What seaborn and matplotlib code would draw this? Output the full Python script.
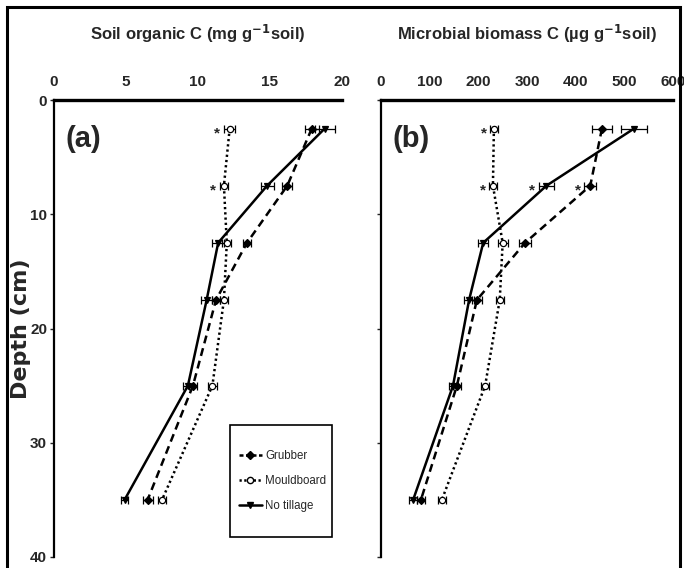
import matplotlib
matplotlib.use("Agg")
import matplotlib.pyplot as plt
import matplotlib.patches as mpatches
from matplotlib.lines import Line2D
import numpy as np
import pandas as pd
import seaborn as sns

# Sampling depths (cm, layer mid-points)
depth = [2.5, 7.5, 12.5, 17.5, 25, 35]
treatments = ["Grubber", "Mouldboard", "No tillage"]

# Soil organic C (mg g-1 soil): means and standard errors
soc_grubber = [17.9, 16.2, 13.4, 11.25, 9.65, 6.5]
soc_mould = [12.2, 11.8, 12.0, 11.8, 11.0, 7.5]
soc_notill = [18.8, 14.8, 11.4, 10.6, 9.3, 4.9]
soc_grubber_se = [0.5, 0.35, 0.3, 0.3, 0.3, 0.35]
soc_mould_se = [0.4, 0.3, 0.3, 0.3, 0.3, 0.3]
soc_notill_se = [0.7, 0.45, 0.4, 0.4, 0.35, 0.25]

# Microbial biomass C (ug g-1 soil): means and standard errors
mbc_grubber = [454, 430, 296, 197, 156, 82]
mbc_mould = [232, 230, 250, 244, 214, 125]
mbc_notill = [520, 340, 210, 181, 148, 66]
mbc_grubber_se = [20, 12, 12, 10, 8, 8]
mbc_mould_se = [8, 8, 10, 8, 8, 8]
mbc_notill_se = [27, 16, 10, 10, 8, 8]

# Significance marks: (treatment, depth index)
soc_stars = [("Mouldboard", 0), ("Mouldboard", 1)]
mbc_stars = [("Mouldboard", 0), ("Mouldboard", 1), ("No tillage", 1), ("Grubber", 1)]

soc_ticks = [0, 5, 10, 15, 20]
mbc_ticks = [0, 100, 200, 300, 400, 500, 600]
depth_ticks = [0, 10, 20, 30, 40]


def long_table(g, m, n, gse, mse, nse):
    rows = []
    for name, vals, errs in zip(treatments, [g, m, n], [gse, mse, nse]):
        for d, v, e in zip(depth, vals, errs):
            rows.append({"Treatment": name, "Depth": d, "Value": v, "SE": e})
    return pd.DataFrame(rows)


soc = long_table(soc_grubber, soc_mould, soc_notill,
                 soc_grubber_se, soc_mould_se, soc_notill_se)
mbc = long_table(mbc_grubber, mbc_mould, mbc_notill,
                 mbc_grubber_se, mbc_mould_se, mbc_notill_se)

sns.set_theme(style="white")
plt.rcParams["font.family"] = ["Liberation Sans", "DejaVu Sans"]
plt.rcParams["mathtext.default"] = "regular"

styles = {
    "Grubber": dict(ls=(0, (3.2, 2.0)), leg_ls=(0, (1.6, 1.0)), marker="D",
                    mfc="black", ms=4),
    "Mouldboard": dict(ls=(0, (0.9, 1.2)), leg_ls=(0, (0.9, 1.0)), marker="o",
                       mfc="white", ms=4.5),
    "No tillage": dict(ls="-", leg_ls="-", marker="v", mfc="black", ms=5),
}

fig = plt.figure(figsize=(6.84, 5.68), dpi=100)
W, H = 684, 568


def px_axes(x0, x1, y0, y1):
    return fig.add_axes([x0 / W, 1 - y1 / H, (x1 - x0) / W, (y1 - y0) / H])


ax_a = px_axes(54, 342, 100, 557)
ax_b = px_axes(381, 673, 100, 557)

# outer frame around the whole figure
frame = mpatches.Rectangle((7 / W, -0.05), (680 - 7) / W, 1 - 7 / H + 0.05,
                           transform=fig.transFigure, fill=False,
                           lw=2.2, ec="black", zorder=10)
fig.patches.append(frame)


def draw_panel(ax, df, xlim, xticks, xlabel, tag, stars, show_ylabels):
    for name in treatments:
        sub = df[df["Treatment"] == name]
        st = styles[name]
        sns.lineplot(data=sub, x="Value", y="Depth", sort=False, estimator=None,
                     orient="y", ax=ax, color="black", lw=1.8, linestyle=st["ls"],
                     legend=False)
        ax.errorbar(sub["Value"], sub["Depth"], xerr=sub["SE"], fmt=st["marker"],
                    ms=st["ms"], mfc=st["mfc"], mec="black", mew=0.9,
                    ecolor="black", elinewidth=0.9, capsize=3, capthick=0.9,
                    zorder=5)
    for name, i in stars:
        sub = df[df["Treatment"] == name].reset_index(drop=True)
        ax.annotate("*", xy=(sub.loc[i, "Value"] - sub.loc[i, "SE"], sub.loc[i, "Depth"]),
                    xytext=(-2.5, -3.5), textcoords="offset points",
                    ha="right", va="center", fontsize=11, fontweight="bold")

    ax.set_xlim(*xlim)
    ax.set_ylim(40, 0)
    ax.set_xticks(xticks)
    ax.set_yticks(depth_ticks)
    ax.xaxis.tick_top()
    ax.xaxis.set_label_position("top")
    ax.set_xlabel(xlabel, fontsize=12, fontweight="bold", labelpad=25)
    ax.tick_params(axis="x", length=0, pad=8, labelsize=11)
    ax.tick_params(axis="y", left=True, length=3, width=1, pad=2, labelsize=11,
                   labelleft=show_ylabels)
    for lab in ax.get_xticklabels() + ax.get_yticklabels():
        lab.set_fontweight("bold")
    for s in ["right", "bottom"]:
        ax.spines[s].set_visible(False)
    ax.spines["top"].set_linewidth(2.4)
    ax.spines["left"].set_linewidth(1.6)
    ax.spines["top"].set_color("black")
    ax.spines["left"].set_color("black")
    ax.text(0.04, 0.915, tag, transform=ax.transAxes, fontsize=21,
            fontweight="bold", ha="left", va="center")


draw_panel(ax_a, soc, (0, 20), soc_ticks,
           r"Soil organic C (mg g$^{\mathbf{-1}}$soil)", "(a)", soc_stars, True)
draw_panel(ax_b, mbc, (0, 600), mbc_ticks,
           r"Microbial biomass C (µg g$^{\mathbf{-1}}$soil)", "(b)", mbc_stars, False)
ax_b.set_ylabel("")
ax_a.set_ylabel("Depth (cm)", fontsize=16, fontweight="bold",
                family=["DejaVu Sans"])
ax_a.yaxis.set_label_coords((31 - 54) / 288, 0.5)

# legend: entries without frame, box drawn as a separate rectangle
handles = [Line2D([0], [0], color="black", lw=1.8, linestyle=styles[n]["leg_ls"],
                  marker=styles[n]["marker"], ms=styles[n]["ms"],
                  mfc=styles[n]["mfc"], mec="black") for n in treatments]
leg = ax_a.legend(handles, treatments, loc="center left",
                  bbox_to_anchor=((233 - 54) / 288, (557 - 481) / 457),
                  frameon=False, fontsize=8.3, handlelength=2.0,
                  borderpad=0.0, labelspacing=1.15, handletextpad=0.3)
box = mpatches.Rectangle(((230 - 54) / 288, (557 - 537) / 457),
                         (332 - 230) / 288, (537 - 425) / 457,
                         transform=ax_a.transAxes, fill=False, ec="black",
                         lw=1.2, zorder=6)
ax_a.add_patch(box)

fig.savefig("out.png", dpi=100)
